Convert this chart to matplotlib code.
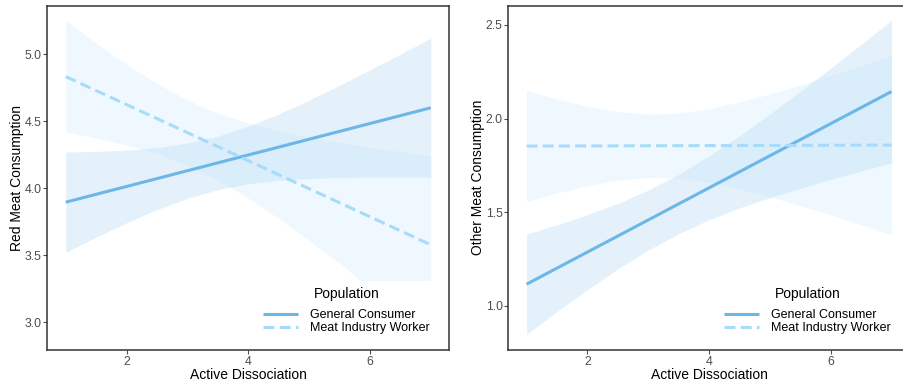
import matplotlib
matplotlib.use("Agg")
import matplotlib.pyplot as plt
import numpy as np

plt.rcParams['font.family'] = ['Liberation Sans', 'DejaVu Sans']

# fitted lines (value at x=1 and x=7)
line_x = [1, 7]
red_gc_line = [3.895, 4.600]
red_miw_line = [4.833, 3.577]
other_gc_line = [1.116, 2.144]
other_miw_line = [1.853, 1.858]

# confidence bands
band_x = [1, 1.5, 2, 2.5, 3, 3.5, 4, 4.5, 5, 5.5, 6, 6.5, 7]
red_gc_lo = [3.520, 3.633, 3.741, 3.840, 3.924, 3.989, 4.033, 4.058, 4.072, 4.079, 4.082, 4.082, 4.080]
red_gc_hi = [4.270, 4.274, 4.284, 4.303, 4.336, 4.388, 4.463, 4.554, 4.657, 4.768, 4.883, 5.000, 5.120]

red_miw_x = [1, 1.5, 2, 2.5, 3, 3.5, 4, 4.5, 5, 5.5, 5.84, 6, 6.5, 7]
red_miw_lo = [4.418, 4.375, 4.323, 4.258, 4.171, 4.060, 3.925, 3.773, 3.611, 3.442, 3.310, 3.310, 3.310, 3.310]
red_miw_hi = [5.248, 5.082, 4.924, 4.781, 4.657, 4.560, 4.485, 4.427, 4.381, 4.341, 4.317, 4.305, 4.272, 4.240]

other_gc_lo = [0.848, 0.970, 1.087, 1.198, 1.298, 1.385, 1.460, 1.523, 1.578, 1.628, 1.675, 1.720, 1.764]
other_gc_hi = [1.384, 1.433, 1.487, 1.547, 1.618, 1.702, 1.800, 1.908, 2.024, 2.145, 2.269, 2.396, 2.524]
other_miw_lo = [1.557, 1.603, 1.642, 1.672, 1.686, 1.682, 1.660, 1.624, 1.583, 1.535, 1.486, 1.434, 1.380]
other_miw_hi = [2.149, 2.104, 2.065, 2.037, 2.023, 2.029, 2.052, 2.088, 2.131, 2.179, 2.230, 2.283, 2.336]

labels = ["General Consumer", "Meat Industry Worker"]
gc_color = "#6cb6e8"
miw_color = "#a8dbfa"

fig = plt.figure(figsize=(9.04, 3.84), dpi=100)
ax1 = fig.add_axes([47.5 / 904, 34 / 384, 401.5 / 904, 344.5 / 384])
ax2 = fig.add_axes([508.3 / 904, 34 / 384, 401.5 / 904, 344.5 / 384])


def draw_panel(ax, gc_x, gc_lo, gc_hi, miw_x, miw_lo, miw_hi, gc_line, miw_line, ylabel, ylim, yticks):
    ax.fill_between(gc_x, gc_lo, gc_hi, color=gc_color, alpha=0.18, linewidth=0)
    ax.fill_between(miw_x, miw_lo, miw_hi, color=miw_color, alpha=0.18, linewidth=0)
    ax.plot(line_x, gc_line, color=gc_color, linewidth=2.2, label=labels[0], solid_capstyle="butt")
    ax.plot(line_x, miw_line, color=miw_color, linewidth=2.2, label=labels[1], dashes=(3.6, 1.7))
    ax.set_xlim(0.7, 7.3)
    ax.set_ylim(*ylim)
    ax.set_xticks([2, 4, 6])
    ax.set_yticks(yticks)
    ax.yaxis.set_major_formatter(matplotlib.ticker.FormatStrFormatter("%.1f"))
    ax.tick_params(labelsize=8.8, colors="#4d4d4d", length=3, width=0.8, pad=1)
    for s in ax.spines.values():
        s.set_color("#333333")
        s.set_linewidth(1.1)
    ax.set_xlabel("Active Dissociation", fontsize=10, labelpad=0.5)
    ax.set_ylabel(ylabel, fontsize=10, labelpad=0.5)
    leg = ax.legend(title="Population", loc="lower right", bbox_to_anchor=(0.953, 0.045),
                    frameon=False, fontsize=9, title_fontsize=10, handlelength=2.8,
                    handletextpad=1.0, labelspacing=0.1, borderpad=0, borderaxespad=0)
    leg._legend_box.sep = 6


draw_panel(ax1, band_x, red_gc_lo, red_gc_hi, red_miw_x, red_miw_lo, red_miw_hi,
           red_gc_line, red_miw_line, "Red Meat Consumption", (2.791, 5.364),
           [3.0, 3.5, 4.0, 4.5, 5.0])
draw_panel(ax2, band_x, other_gc_lo, other_gc_hi, band_x, other_miw_lo, other_miw_hi,
           other_gc_line, other_miw_line, "Other Meat Consumption", (0.765, 2.603),
           [1.0, 1.5, 2.0, 2.5])

fig.savefig("out.png", dpi=100)
